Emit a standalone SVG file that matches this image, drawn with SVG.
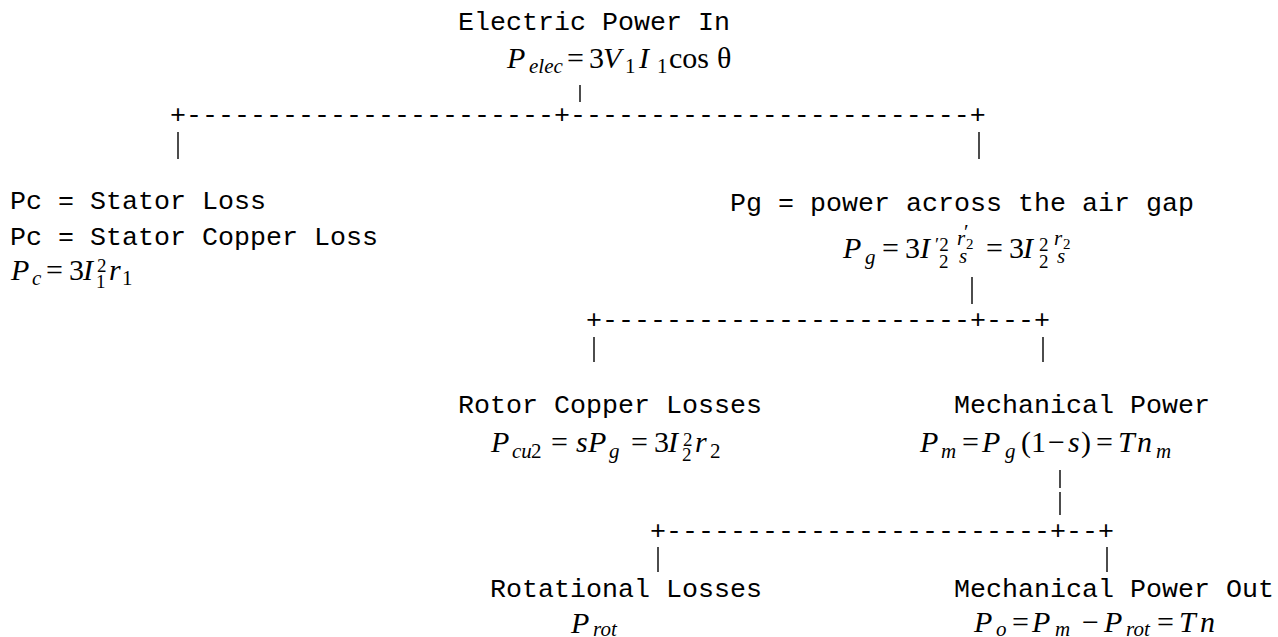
<svg xmlns="http://www.w3.org/2000/svg" width="1278" height="637" viewBox="0 0 1278 637">
<style>
.t{font-family:"Courier New","Liberation Mono",monospace;font-size:26.67px;fill:#000;white-space:pre}
.m{font-family:"Times New Roman","Liberation Serif",serif;font-size:30px;fill:#000}
.i{font-style:italic}
.s{font-size:21px}
.k{font-size:19px}
.f{font-size:21px}
.fs{font-size:15px}
.bar{stroke:#000;stroke-width:1.4}
</style>
<rect width="1278" height="637" fill="#fff"/>
<g id="connectors">
<text class="t" x="170" y="123">+-----------------------+-------------------------+</text>
<text class="t" x="586" y="328">+-----------------------+---+</text>
<text class="t" x="650" y="539">+------------------------+--+</text>
<line class="bar" x1="580" y1="85" x2="580" y2="102"/>
<line class="bar" x1="178" y1="132" x2="178" y2="159"/>
<line class="bar" x1="979" y1="132" x2="979" y2="159"/>
<line class="bar" x1="972" y1="277" x2="972" y2="304"/>
<line class="bar" x1="594" y1="337" x2="594" y2="362"/>
<line class="bar" x1="1043" y1="337" x2="1043" y2="362"/>
<line class="bar" x1="1060" y1="470" x2="1060" y2="488"/>
<line class="bar" x1="1060" y1="492" x2="1060" y2="515"/>
<line class="bar" x1="658" y1="547" x2="658" y2="572"/>
<line class="bar" x1="1107" y1="547" x2="1107" y2="572"/>
</g>
<g id="node-electric-in">
<text class="t" x="458" y="30">Electric Power In</text>
<text class="m" y="68"><tspan class="i" x="507">P</tspan><tspan class="i s" x="529" y="73">elec</tspan><tspan x="567" y="68">=</tspan><tspan x="589">3</tspan><tspan class="i" x="603">V</tspan><tspan class="s" x="625" y="73">1</tspan><tspan class="i" x="639" y="68">I</tspan><tspan class="s" x="657" y="73">1</tspan><tspan x="669" y="68">cos</tspan><tspan x="717">θ</tspan></text>
</g>
<g id="node-stator-loss">
<text class="t" x="10" y="209">Pc = Stator Loss</text>
<text class="t" x="10" y="245">Pc = Stator Copper Loss</text>
<text class="m" y="280"><tspan class="i" x="11">P</tspan><tspan class="i s" x="32" y="285">c</tspan><tspan x="46" y="280">=</tspan><tspan x="69">3</tspan><tspan class="i" x="83">I</tspan><tspan class="k" x="97" y="272">2</tspan><tspan class="k" x="96" y="288">1</tspan><tspan class="i" x="109" y="280">r</tspan><tspan class="s" x="122" y="285">1</tspan></text>
</g>
<g id="node-air-gap">
<text class="t" x="730" y="211">Pg = power across the air gap</text>
<text class="m" y="258"><tspan class="i" x="843">P</tspan><tspan class="i s" x="865" y="264">g</tspan><tspan x="882" y="258">=</tspan><tspan x="905">3</tspan><tspan class="i" x="920">I</tspan><tspan class="k" x="935" y="251">′2</tspan><tspan class="k" x="939" y="268">2</tspan><tspan class="i f" x="957" y="245">r</tspan><tspan class="f" x="964" y="239">′</tspan><tspan class="fs" x="966" y="249">2</tspan><tspan class="i f" x="959" y="263">s</tspan><tspan x="986" y="258">=</tspan><tspan x="1009">3</tspan><tspan class="i" x="1023">I</tspan><tspan class="k" x="1039" y="251">2</tspan><tspan class="k" x="1039" y="268">2</tspan><tspan class="i f" x="1054" y="245">r</tspan><tspan class="fs" x="1063" y="249">2</tspan><tspan class="i f" x="1057" y="263">s</tspan></text>
</g>
<g id="node-rotor-copper">
<text class="t" x="458" y="413">Rotor Copper Losses</text>
<text class="m" y="452"><tspan class="i" x="491">P</tspan><tspan class="i s" x="512" y="458">cu</tspan><tspan class="s" x="531" y="458">2</tspan><tspan x="551" y="452">=</tspan><tspan class="i" x="576">s</tspan><tspan class="i" x="588">P</tspan><tspan class="i s" x="609" y="458">g</tspan><tspan x="631" y="452">=</tspan><tspan x="654">3</tspan><tspan class="i" x="668">I</tspan><tspan class="k" x="683" y="446">2</tspan><tspan class="k" x="682" y="461">2</tspan><tspan class="i" x="695" y="452">r</tspan><tspan class="s" x="710" y="458">2</tspan></text>
</g>
<g id="node-mechanical">
<text class="t" x="954" y="413">Mechanical Power</text>
<text class="m" y="452"><tspan class="i" x="920">P</tspan><tspan class="i s" x="941" y="458">m</tspan><tspan x="962" y="452">=</tspan><tspan class="i" x="982">P</tspan><tspan class="i s" x="1005" y="458">g</tspan><tspan x="1021" y="452">(</tspan><tspan x="1031">1</tspan><tspan x="1048">−</tspan><tspan class="i" x="1068">s</tspan><tspan x="1081">)</tspan><tspan x="1096">=</tspan><tspan class="i" x="1118">T</tspan><tspan class="i" x="1137">n</tspan><tspan class="i s" x="1156" y="458">m</tspan></text>
</g>
<g id="node-rotational-losses">
<text class="t" x="490" y="597">Rotational Losses</text>
<text class="m" y="633"><tspan class="i" x="571">P</tspan><tspan class="i s" x="593" y="636">rot</tspan></text>
</g>
<g id="node-mechanical-out">
<text class="t" x="954" y="597">Mechanical Power Out</text>
<text class="m" y="632"><tspan class="i" x="974">P</tspan><tspan class="i s" x="996" y="636">o</tspan><tspan x="1012" y="632">=</tspan><tspan class="i" x="1032">P</tspan><tspan class="i s" x="1055" y="636">m</tspan><tspan x="1082" y="632">−</tspan><tspan class="i" x="1104">P</tspan><tspan class="i s" x="1126" y="636">rot</tspan><tspan x="1157" y="632">=</tspan><tspan class="i" x="1179">T</tspan><tspan class="i" x="1200">n</tspan></text>
</g>
</svg>
